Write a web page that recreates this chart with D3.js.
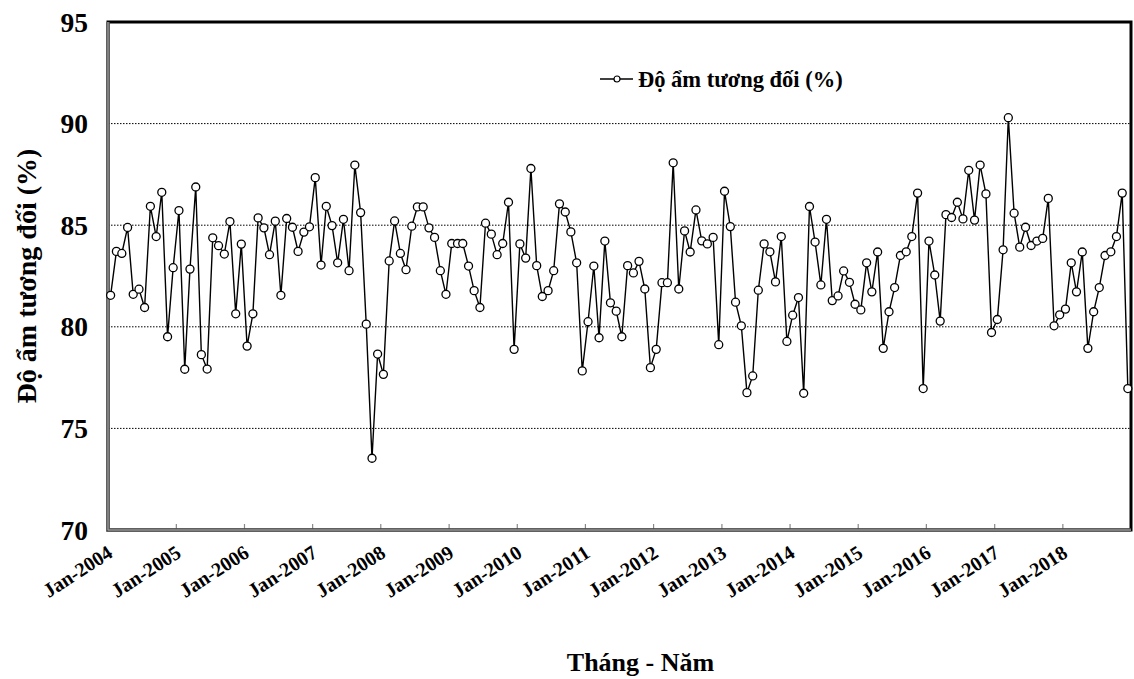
<!DOCTYPE html>
<html>
<head>
<meta charset="utf-8">
<script src="https://cdn.jsdelivr.net/npm/d3@7"></script>
<style>
  body { margin: 0; background: #fff; }
  text { font-family: "Liberation Serif", "Times New Roman", serif; font-weight: bold; }
</style>
</head>
<body>
<div id="chart"></div>
<script>
// monthly relative humidity, Jan-2004 .. Dec-2018
const startYear = 2004;
const yearCount = 15;
const yTicks = [70, 75, 80, 85, 90, 95];
const gridValues = [75, 80, 85, 90];
const seriesName = "Độ ẩm tương đối (%)";
const xTitle = "Tháng - Năm";
const yTitle = "Độ ẩm tương đối (%)";

const humidity = [
    81.55, 83.71, 83.61, 84.89, 81.6, 81.85, 80.95, 85.93, 84.44, 86.62, 79.51, 82.91,
    85.72, 77.91, 82.84, 86.88, 78.63, 77.92, 84.38, 83.99, 83.58, 85.18, 80.64, 84.07,
    79.05, 80.64, 85.36, 84.87, 83.55, 85.2, 81.55, 85.33, 84.9, 83.71, 84.66, 84.92,
    87.34, 83.04, 85.93, 84.98, 83.15, 85.29, 82.76, 87.96, 85.62, 80.13, 73.53, 78.66,
    77.66, 83.24, 85.21, 83.61, 82.81, 84.95, 85.9, 85.9, 84.87, 84.4, 82.76, 81.6,
    84.1, 84.1, 84.1, 82.99, 81.78, 80.95, 85.1, 84.56, 83.55, 84.1, 86.13, 78.89,
    84.08, 83.38, 87.79, 83.01, 81.49, 81.78, 82.76, 86.05, 85.65, 84.67, 83.15, 77.83,
    80.25, 82.99, 79.46, 84.22, 81.18, 80.77, 79.51, 83.01, 82.65, 83.22, 81.86, 77.99,
    78.89, 82.17, 82.17, 88.07, 81.86, 84.72, 83.68, 85.75, 84.23, 84.08, 84.4, 79.12,
    86.67, 84.93, 81.21, 80.05, 76.76, 77.58, 81.8, 84.08, 83.69, 82.21, 84.44, 79.28,
    80.57, 81.44, 76.73, 85.92, 84.17, 82.06, 85.29, 81.29, 81.52, 82.75, 82.19, 81.11,
    80.83, 83.15, 81.72, 83.68, 78.94, 80.74, 81.93, 83.51, 83.69, 84.44, 86.58, 76.96,
    84.22, 82.55, 80.28, 85.52, 85.38, 86.13, 85.31, 87.7, 85.25, 87.96, 86.54, 79.72,
    80.36, 83.79, 90.29, 85.59, 83.92, 84.9, 84.0, 84.22, 84.35, 86.32, 80.05, 80.59,
    80.87, 83.15, 81.72, 83.68, 78.94, 80.74, 81.93, 83.51, 83.69, 84.44, 86.58, 76.96
];

const data = humidity.map((v, i) => ({
    date: new Date(startYear, i, 15),
    value: v
}));

const width = 1134, height = 679;
const margin = { top: 22, right: 3, bottom: 149, left: 108 };

const svg = d3.select("#chart")
    .append("svg")
    .attr("width", width)
    .attr("height", height);

const x = d3.scaleTime()
    .domain([new Date(startYear, 0, 1), new Date(startYear + yearCount, 0, 1)])
    .range([margin.left, width - margin.right]);

const y = d3.scaleLinear()
    .domain([70, 95])
    .range([height - margin.bottom, margin.top]);

const x0 = x.range()[0], x1 = x.range()[1];
const y0 = y.range()[0], y1 = y.range()[1];

// dotted gridlines
svg.append("g")
    .selectAll("line")
    .data(gridValues)
    .join("line")
    .attr("x1", x0).attr("x2", x1)
    .attr("y1", d => y(d)).attr("y2", d => y(d))
    .attr("stroke", "#000")
    .attr("stroke-width", 1)
    .attr("stroke-dasharray", "1.5,1.5");

// y tick labels
svg.append("g")
    .selectAll("text")
    .data(yTicks)
    .join("text")
    .attr("x", 88)
    .attr("y", d => y(d))
    .attr("dy", "0.35em")
    .attr("text-anchor", "end")
    .attr("font-size", 27.5)
    .text(d => d);

// year ticks (inside, pointing up) + rotated labels
const years = d3.timeYear.range(new Date(startYear, 0, 1), new Date(startYear + yearCount, 0, 1));

svg.append("g")
    .selectAll("line")
    .data(years.slice(1))
    .join("line")
    .attr("x1", d => x(d)).attr("x2", d => x(d))
    .attr("y1", y0).attr("y2", y0 - 6)
    .attr("stroke", "#888")
    .attr("stroke-width", 1.2);

svg.append("g")
    .selectAll("text")
    .data(years)
    .join("text")
    .attr("text-anchor", "end")
    .attr("font-size", 20)
    .attr("transform", d => `translate(${x(d) + 6},${y0 + 26}) rotate(-33)`)
    .text(d3.timeFormat("Jan-%Y"));

// frame: top/right black, left/bottom dark gray axis lines
svg.append("rect")
    .attr("x", x0).attr("y", y1)
    .attr("width", x1 - x0).attr("height", y0 - y1)
    .attr("fill", "none")
    .attr("stroke", "#000")
    .attr("stroke-width", 3);

svg.append("path")
    .attr("d", `M${x0},${y1}V${y0}H${x1}`)
    .attr("fill", "none")
    .attr("stroke", "#555")
    .attr("stroke-width", 3.5);

svg.append("path")
    .attr("d", `M${x0},${y1}V${y0}H${x1}`)
    .attr("fill", "none")
    .attr("stroke", "#aaa")
    .attr("stroke-width", 1);

// series
const line = d3.line()
    .x(d => x(d.date))
    .y(d => y(d.value));

svg.append("path")
    .datum(data)
    .attr("d", line)
    .attr("fill", "none")
    .attr("stroke", "#000")
    .attr("stroke-width", 1.4);

svg.append("g")
    .selectAll("circle")
    .data(data)
    .join("circle")
    .attr("cx", d => x(d.date))
    .attr("cy", d => y(d.value))
    .attr("r", 4)
    .attr("fill", "#fff")
    .attr("stroke", "#000")
    .attr("stroke-width", 1.3);

// legend
const legend = svg.append("g").attr("transform", "translate(600,79)");
legend.append("line")
    .attr("x1", 0).attr("x2", 33)
    .attr("stroke", "#000").attr("stroke-width", 1.4);
legend.append("circle")
    .attr("cx", 17).attr("r", 3)
    .attr("fill", "#fff").attr("stroke", "#000").attr("stroke-width", 1.2);
legend.append("text")
    .attr("x", 38).attr("dy", "0.35em")
    .attr("font-size", 22.5)
    .text(seriesName);

// axis titles
svg.append("text")
    .attr("x", (x0 + x1) / 2 + 21)
    .attr("y", 671)
    .attr("text-anchor", "middle")
    .attr("font-size", 26)
    .text(xTitle);

svg.append("text")
    .attr("transform", `translate(36,${(y0 + y1) / 2}) rotate(-90)`)
    .attr("text-anchor", "middle")
    .attr("font-size", 28)
    .text(yTitle);
</script>
</body>
</html>
